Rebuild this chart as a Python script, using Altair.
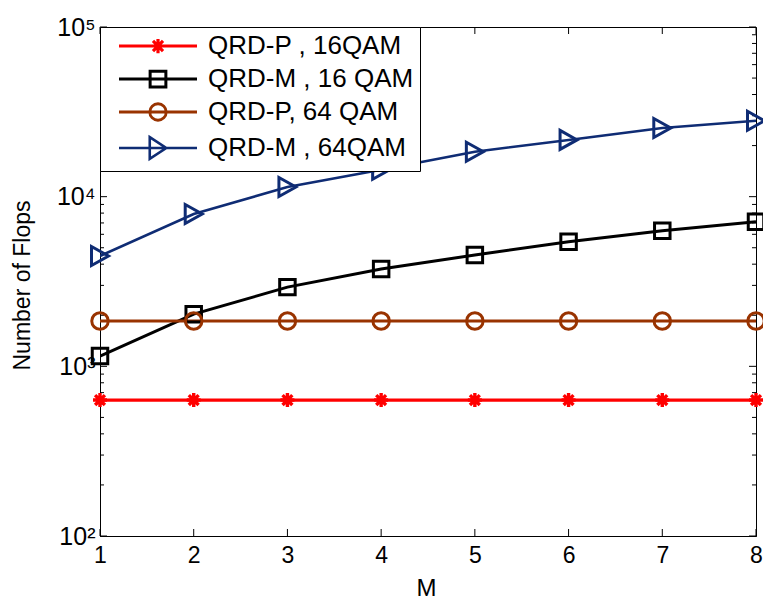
import altair as alt
import pandas as pd

# ---- data ----
M = [1, 2, 3, 4, 5, 6, 7, 8]
qrdp_16 = [633, 633, 633, 633, 633, 633, 633, 633]
qrdm_16 = [1150, 2030, 2930, 3750, 4530, 5430, 6300, 7120]
qrdp_64 = [1850, 1850, 1850, 1850, 1850, 1850, 1850, 1850]
qrdm_64 = [4470, 7900, 11400, 14400, 18400, 21600, 25400, 28000]

names = ["QRD-P , 16QAM", "QRD-M , 16 QAM", "QRD-P, 64 QAM", "QRD-M , 64QAM"]
colors = ["#ff0000", "#000000", "#993300", "#0f2c74"]
series_vals = [qrdp_16, qrdm_16, qrdp_64, qrdm_64]

y_major = [100, 1000, 10000, 100000]
y_minor = [m * d for d in (100, 1000, 10000) for m in range(2, 10)]
x_ticks = M

rows = []
for name, vals in zip(names, series_vals):
    for m, v in zip(M, vals):
        rows.append({"M": m, "flops": v, "series": name})
df = pd.DataFrame(rows)

W, H = 656, 509
FONT = "Liberation Sans"

# marker shapes (chart) and legend symbols (line + marker)
star = "M-1,0H1M0,-1V1M-0.7,-0.7L0.7,0.7M-0.7,0.7L0.7,-0.7"
tri = "M-0.85,-0.95L0.85,0L-0.85,0.95Z"
chart_markers = [
    dict(shape=star, size=196, strokeWidth=3.4),
    dict(shape="square", size=240, strokeWidth=3),
    dict(shape="circle", size=272, strokeWidth=3),
    dict(shape=tri, size=400, strokeWidth=3),
]
L = "M-5.2,0H5.2"
legend_paths = [
    L + "M-0.95,0H0.95M0,-0.95V0.95M-0.67,-0.67L0.67,0.67M-0.67,0.67L0.67,-0.67",
    L + "M-1.05,-1.05H1.05V1.05H-1.05Z",
    L + "M1.1,0A1.1,1.1,0,1,1,-1.1,0A1.1,1.1,0,1,1,1.1,0Z",
    L + "M-1.1,-1.45L1.1,0L-1.1,1.45Z",
]

xscale = alt.Scale(domain=[1, 8], nice=False, zero=False)
yscale = alt.Scale(type="log", domain=[100, 100000], nice=False)
cscale = alt.Scale(domain=names, range=colors)

label_expr = ("datum.value == 100 ? '10\u00b2' : datum.value == 1000 ? '10\u00b3' : "
              "datum.value == 10000 ? '10\u2074' : '10\u2075'")

xaxis = alt.Axis(values=x_ticks, ticks=False, grid=False, title="M", format="d",
                 labelFont=FONT, labelFontSize=23, labelColor="black",
                 labelPadding=8, labelFlush=False, labelOverlap=False,
                 titleFont=FONT, titleFontSize=24, titleFontWeight="normal", titleColor="black",
                 titleX=326, titleY=52, titleBaseline="middle")
yaxis = alt.Axis(values=y_major, ticks=False, grid=False, title="Number of Flops",
                 labelExpr=label_expr, labelFont=FONT, labelFontSize=25, labelColor="black",
                 labelPadding=5, labelOverlap=False,
                 titleFont=FONT, titleFontSize=23, titleFontWeight="normal", titleColor="black",
                 titleX=-78, titleY=258, titleAngle=270, titleBaseline="middle",
                 titleAlign="center")

X = alt.X("M:Q", scale=xscale, axis=xaxis)
Y = alt.Y("flops:Q", scale=yscale, axis=yaxis)

leg = dict(title=None, orient="none", legendX=0, legendY=0, padding=6,
           fillColor="white", strokeColor="black", cornerRadius=0,
           labelFont=FONT, labelFontSize=26, labelColor="black",
           labelLimit=400, symbolSize=225, symbolStrokeWidth=3, symbolOpacity=1,
           symbolOffset=39, labelOffset=37, rowPadding=5)

# legend-only layer: same rows pushed below the log domain and clipped away
legend_layer = alt.Chart(df).transform_calculate(hidden="1").mark_point(
    filled=False, strokeWidth=3, opacity=1, clip=True
).encode(
    x=X, y=alt.Y("hidden:Q", scale=yscale, axis=yaxis),
    color=alt.Color("series:N", scale=cscale, legend=alt.Legend(**leg)),
    shape=alt.Shape("series:N", scale=alt.Scale(domain=names, range=legend_paths),
                    legend=alt.Legend(**leg)),
)

lines = alt.Chart(df).mark_line(clip=True).encode(
    x=X, y=Y,
    color=alt.Color("series:N", scale=cscale, legend=alt.Legend(**leg)),
    strokeWidth=alt.StrokeWidth("series:N", scale=alt.Scale(domain=names, range=[3.2, 2.6, 3.2, 3.2]), legend=None),
)

marker_layers = []
for name, mk in zip(names, chart_markers):
    marker_layers.append(
        alt.Chart(df).transform_filter(alt.datum.series == name)
        .mark_point(shape=mk["shape"], size=mk["size"], filled=False,
                    strokeWidth=mk["strokeWidth"], opacity=1)
        .encode(x=X, y=Y,
                color=alt.Color("series:N", scale=cscale, legend=alt.Legend(**leg)))
    )

# inward tick marks (MATLAB style)
ymaj = pd.DataFrame({"flops": y_major})
ymin = pd.DataFrame({"flops": y_minor})
xt = pd.DataFrame({"M": x_ticks})
tick_layers = [
    alt.Chart(ymaj).mark_rule(color="black", strokeWidth=1).encode(y=Y, x=alt.value(0), x2=alt.value(7)),
    alt.Chart(ymaj).mark_rule(color="black", strokeWidth=1).encode(y=Y, x=alt.value(W - 7), x2=alt.value(W)),
    alt.Chart(ymin).mark_rule(color="black", strokeWidth=1).encode(y=Y, x=alt.value(0), x2=alt.value(4)),
    alt.Chart(ymin).mark_rule(color="black", strokeWidth=1).encode(y=Y, x=alt.value(W - 4), x2=alt.value(W)),
    alt.Chart(xt).mark_rule(color="black", strokeWidth=1).encode(x=X, y=alt.value(H - 7), y2=alt.value(H)),
    alt.Chart(xt).mark_rule(color="black", strokeWidth=1).encode(x=X, y=alt.value(0), y2=alt.value(7)),
]

chart = alt.layer(legend_layer, lines, *tick_layers, *marker_layers).properties(
    width=W, height=H,
    autosize=alt.AutoSizeParams(type="none"),
    padding={"left": 100, "top": 27, "right": 7, "bottom": 65},
    background="white",
).configure_view(
    stroke="black", strokeWidth=1
).configure_axis(
    domainColor="black", domainWidth=1,
)

chart.save("out.html", embed_options={"renderer": "svg", "actions": False})
